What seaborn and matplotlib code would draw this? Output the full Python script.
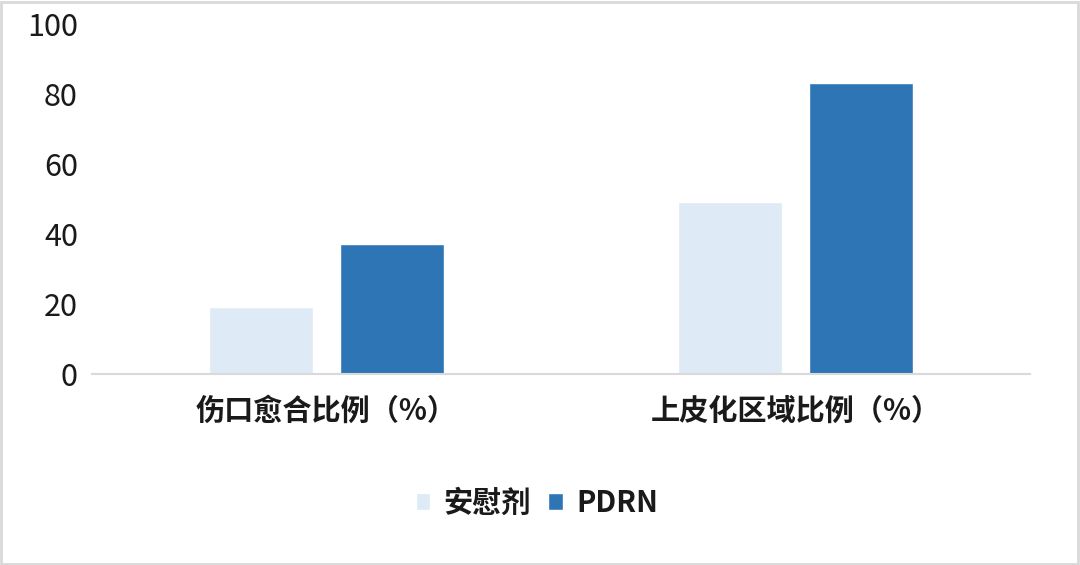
import matplotlib
matplotlib.use("Agg")

import matplotlib.pyplot as plt
import pandas as pd
import seaborn as sns
from matplotlib.patches import Rectangle

CATEGORIES = ["伤口愈合比例（%）", "上皮化区域比例（%）"]
SERIES = ["安慰剂", "PDRN"]
PLACEBO = [19, 49]
PDRN = [37, 83]
Y_TICKS = [0, 20, 40, 60, 80, 100]

PALETTE = {"安慰剂": "#DEEAF6", "PDRN": "#2E75B6"}

df = pd.DataFrame({
    "category": CATEGORIES * 2,
    "group": [SERIES[0]] * len(CATEGORIES) + [SERIES[1]] * len(CATEGORIES),
    "value": PLACEBO + PDRN,
})

sns.set_style("white")
plt.rcParams["font.family"] = ["Noto Sans CJK SC", "DejaVu Sans"]

fig = plt.figure(figsize=(10.8, 5.65), dpi=100)
ax = fig.add_axes([0.085, 0.338, 0.869, 0.62])

sns.barplot(data=df, x="category", y="value", hue="group", order=CATEGORIES,
            hue_order=SERIES, palette=PALETTE, width=0.56, gap=0.21,
            saturation=1, ax=ax, legend=True)

ax.set_ylim(0, 100)
ax.set_yticks(Y_TICKS)
ax.set_xlim(-0.5, 1.5)
ax.set_xlabel("")
ax.set_ylabel("")
for side in ["top", "right", "left"]:
    ax.spines[side].set_visible(False)
ax.spines["bottom"].set_color("#D9D9D9")
ax.spines["bottom"].set_linewidth(1.5)
ax.tick_params(axis="y", length=0, labelsize=22, pad=10, colors="#1a1a1a")
ax.tick_params(axis="x", length=0, labelsize=21, pad=16, colors="#1a1a1a")
for lbl in ax.get_xticklabels():
    lbl.set_fontweight("bold")

handles, labels = ax.get_legend_handles_labels()
leg = ax.legend(handles, labels, loc="center", bbox_to_anchor=(0.497, 0.11),
                bbox_transform=fig.transFigure, ncol=2, frameon=False,
                fontsize=21, handlelength=0.5, handleheight=0.5,
                handletextpad=0.45, columnspacing=0.6)
for t in leg.get_texts():
    t.set_fontweight("bold")
    t.set_color("#1a1a1a")

fig.patches.append(Rectangle((0.001, 0.002), 0.997, 0.995, transform=fig.transFigure,
                             fill=False, edgecolor="#D9D9D9", linewidth=2))

fig.savefig("out.png", dpi=100)
